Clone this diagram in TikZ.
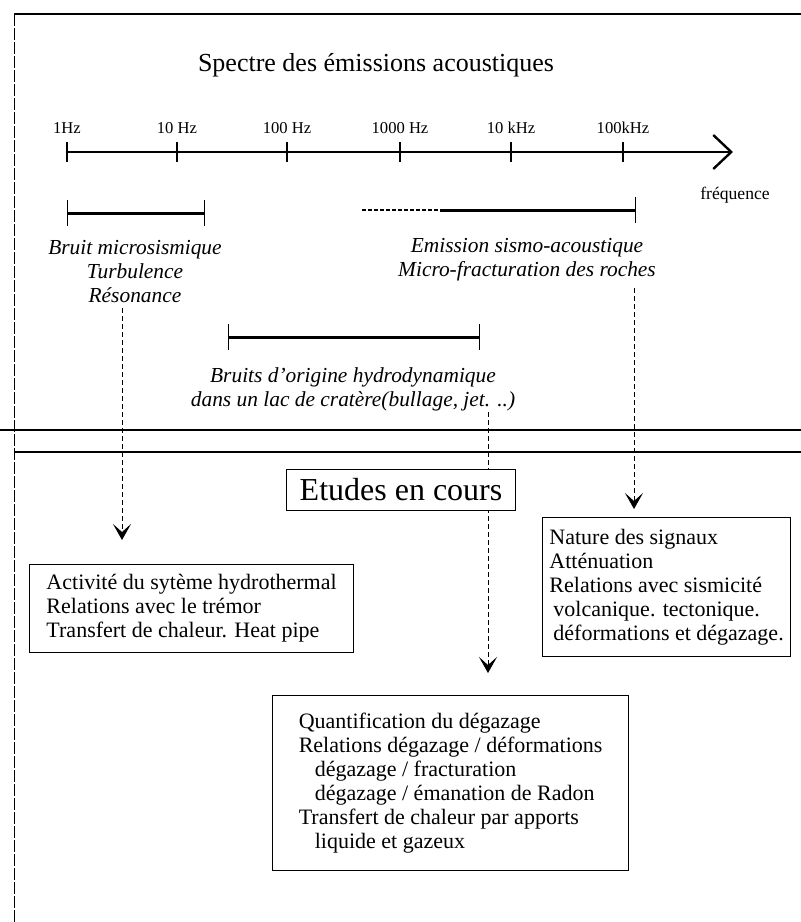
\documentclass[tikz,border=0pt]{standalone}
\usepackage{fontspec}
\setmainfont{Liberation Serif}
\usepackage{tikz}
\usetikzlibrary{arrows.meta,calc,positioning}

\begin{document}
\begin{tikzpicture}[x=0.5pt, y=-0.5pt,
    frame/.style={line width=0.8pt},
    span/.style={line width=1.5pt},
    conn/.style={line width=0.4pt, dash pattern=on 2.5pt off 1.5pt, -{Stealth[length=8pt,width=9pt,inset=4pt]}},
    lab/.style={font=\fontsize{10.7}{12}\selectfont\itshape, align=center},
    infobox/.style={draw, line width=0.6pt, align=left, anchor=north west, inner sep=0pt, font=\fontsize{11}{12}\selectfont}]
  \useasboundingbox (0,0) rectangle (801,922);

  \draw[frame] (14,14) -- (801,14);
  \draw[line width=0.4pt, dash pattern=on 6pt off 1pt] (14,14) -- (14,922);
  \draw[frame] (0,430) -- (801,430);
  \draw[frame] (14,452) -- (801,452);

  \node[font=\fontsize{13}{15}\selectfont] (ttl) at (376,65) {Spectre des émissions acoustiques};

  \coordinate (ax0) at (67,152);
  \coordinate (axe) at (733,152);
  \draw[line width=1.2pt, -{Straight Barb[length=9pt,width=17pt,line width=1.2pt]}] (ax0) -- (axe);
  \foreach \x/\f [count=\i] in {67/1Hz, 177/10 Hz, 287/100 Hz, 400/1000 Hz, 511/10 kHz, 623/100kHz} {
    \draw[line width=0.6pt] (\x,142) -- (\x,162);
    \node[font=\fontsize{8.3}{10}\selectfont] (hz\i) at (\x,128) {\f};
  }
  \node[font=\fontsize{8.8}{10}\selectfont] (frq) at (735,195) {fréquence};

  \draw[span, {Bar[width=13pt,line width=0.6pt]}-{Bar[width=13pt,line width=0.6pt]}] (67,213) -- (205,213);
  \draw[line width=1pt, dash pattern=on 2pt off 1pt] (362,210) -- (440,210);
  \draw[span, -{Bar[width=13pt,line width=0.6pt]}] (440,210) -- (636,210);
  \draw[span, {Bar[width=13pt,line width=0.6pt]}-{Bar[width=13pt,line width=0.6pt]}] (228,337) -- (480,337);

  \node[lab] (micro) at (135,272) {Bruit microsismique\\Turbulence\\Résonance};
  \node[lab] (sismo) at (527,260) {Emission sismo-acoustique\\Micro-fracturation des roches};
  \node[lab] (hydro) at (353,389) {Bruits d'origine hydrodynamique\\dans un lac de cratère(bullage, jet. ..)};

  \node[infobox, minimum width=162pt, minimum height=44pt] (hyd) at (29,564)
    {Activité du sytème hydrothermal\\Relations avec le trémor\\Transfert de chaleur. Heat pipe};
  \node[infobox, minimum width=124pt, minimum height=69.5pt] (sig) at (542,517)
    {Nature des signaux\\Atténuation\\Relations avec sismicité\\\hspace*{2pt}volcanique. tectonique.\\\hspace*{2pt}déformations et dégazage.};
  \node[infobox, minimum width=178pt, minimum height=87.5pt] (deg) at (272,695)
    {Quantification du dégazage\\Relations dégazage / déformations\\\hspace*{8pt}dégazage / fracturation\\\hspace*{8pt}dégazage / émanation de Radon\\Transfert de chaleur par apports\\\hspace*{8pt}liquide et gazeux};

  \coordinate (c1) at (122,308);
  \coordinate (c2) at (634,288);
  \coordinate (c3) at (488,412);
  \draw[conn, shorten >=12pt] (c1) -- (c1 |- hyd.north);
  \draw[conn, shorten >=4pt] (c2) -- (c2 |- sig.north);
  \draw[conn, shorten >=11pt] (c3) -- (c3 |- deg.north);

  \node[draw, fill=white, line width=0.6pt, minimum width=114.5pt, minimum height=20.5pt, font=\fontsize{16}{18}\selectfont] (etu) at (401,490) {Etudes en cours};
\end{tikzpicture}
\end{document}
